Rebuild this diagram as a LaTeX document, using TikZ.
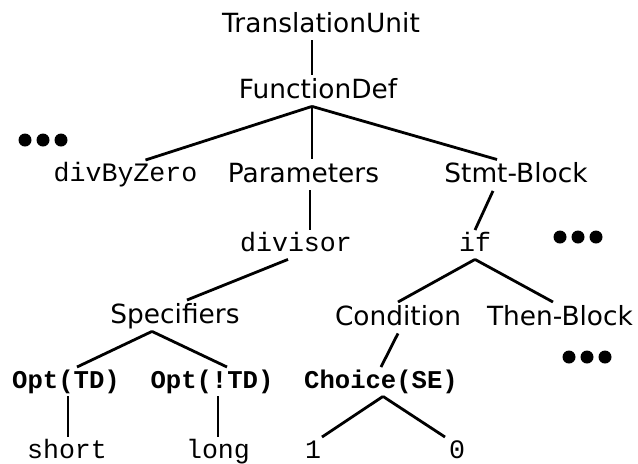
\documentclass[tikz,border=0pt]{standalone}
\usepackage{fontspec}
\setmainfont{DejaVu Sans}
\setmonofont{Liberation Mono}
\usetikzlibrary{positioning}
\tikzset{
  lbl/.style={anchor=base, inner xsep=0pt, inner ysep=4pt, font=\fontsize{13.2}{15}\selectfont, text height=0.73em, text depth=0pt},
  code/.style={anchor=base, inner xsep=0pt, inner ysep=4pt, font=\fontsize{13.3}{15}\ttfamily, text height=0.63em, text depth=0pt},
  bcode/.style={code, font=\fontsize{12.8}{15}\ttfamily\bfseries},
  edge/.style={line width=1.4pt}
}
\newcommand{\moredots}[2]{\foreach \i in {0,1,2} \fill (#1+18*\i,#2) circle (3.25pt);}

\begin{document}
\begin{tikzpicture}[x=0.5pt,y=-0.5pt]
  \useasboundingbox (0,0) rectangle (638,463);
  % tree nodes (placed at their baselines)
  \node[lbl] (tu) at (321,32) {TranslationUnit};
  \node[lbl] (fd) at (318,98) {FunctionDef};
  \node[code] (dbz) at (125.5,181) {divByZero};
  \node[lbl] (par) at (303.5,182) {Parameters};
  \node[lbl] (sb) at (516,182.5) {Stmt-Block};
  \node[code] (div) at (296,251) {divisor};
  \node[code] (if) at (475,251) {if};
  \node[lbl] (spec) at (175,323) {Specifiers};
  \node[lbl] (cond) at (398,325) {Condition};
  \node[lbl] (then) at (560,325) {Then-Block};
  \node[bcode] (otd) at (66,388) {Opt(TD)};
  \node[bcode] (ontd) at (212,388) {Opt(!TD)};
  \node[bcode] (ch) at (381,388) {Choice(SE)};
  \node[code] (short) at (67,458) {short};
  \node[code] (long) at (218,458) {long};
  \node[code] (one) at (313,458) {1};
  \node[code] (zero) at (457,458) {0};
  % omitted parts
  \moredots{25}{140}
  \moredots{560}{237}
  \moredots{569}{357}
  % edges
  \coordinate (fdb) at ([xshift=-3pt]fd.south);
  \draw[edge] ([xshift=-4.5pt]tu.south) -- ([xshift=-3pt]fd.north);
  \draw[edge] (fdb) -- ([xshift=10pt]dbz.north);
  \draw[edge] (fdb) -- ([xshift=4.25pt]par.north);
  \draw[edge] (fdb) -- ([xshift=-9.5pt]sb.north);
  \draw[edge] ([xshift=3.25pt]par.south) -- ([xshift=7pt]div.north);
  \draw[edge] ([xshift=-11.5pt]sb.south) -- (if.north);
  \draw[edge] ([xshift=-4pt]div.south) -- ([xshift=6pt]spec.north);
  \draw[edge] (if.south) -- (cond.north);
  \draw[edge] (if.south) -- ([xshift=-3.5pt]then.north);
  \draw[edge] ([xshift=-11.5pt]spec.south) -- ([xshift=5.5pt]otd.north);
  \draw[edge] ([xshift=-11.5pt]spec.south) -- ([xshift=7.5pt]ontd.north);
  \draw[edge] (cond.south) -- (ch.north);
  \draw[edge] ([xshift=1pt]otd.south) -- ([xshift=0.5pt]short.north);
  \draw[edge] ([xshift=3pt]ontd.south) -- (long.north);
  \draw[edge] ([xshift=1pt]ch.south) -- ([xshift=4.5pt]one.north);
  \draw[edge] ([xshift=1pt]ch.south) -- ([xshift=-6pt]zero.north);
\end{tikzpicture}
\end{document}
